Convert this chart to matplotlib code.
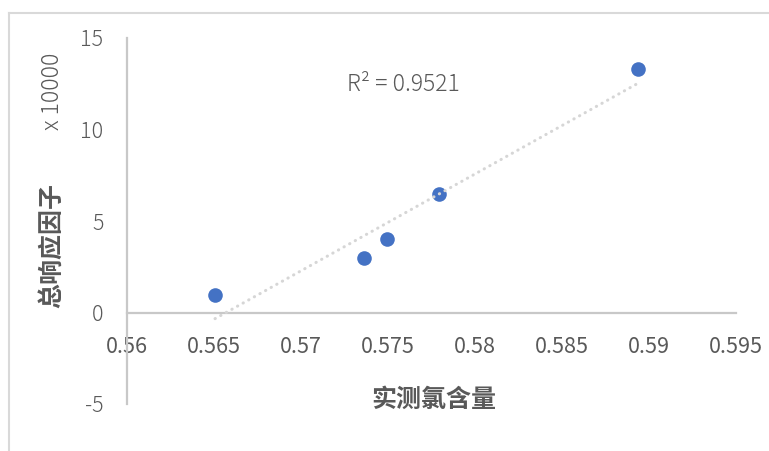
import numpy as np
import matplotlib
matplotlib.use("Agg")
import matplotlib.pyplot as plt
from matplotlib.lines import Line2D

plt.rcParams['font.family'] = ['Noto Sans CJK SC', 'DejaVu Sans']
LIGHT = dict(family=['Noto Sans CJK JP', 'DejaVu Sans'], fontweight=300)

# measured chlorine content vs. total response factor (units of 10000)
chlorine = [0.56506, 0.57362, 0.57494, 0.57793, 0.58937]
response = [0.93, 3.00, 4.04, 6.50, 13.28]
x_ticks = [0.56, 0.565, 0.57, 0.575, 0.58, 0.585, 0.59, 0.595]
x_tick_labels = ["0.56", "0.565", "0.57", "0.575", "0.58", "0.585", "0.59", "0.595"]
y_ticks = [-5, 0, 5, 10, 15]
y_tick_labels = ["-5", "0", "5", "10", "15"]
r2_text = "R² = 0.9521"

W, H = 769, 451
fig = plt.figure(figsize=(W / 100, H / 100), dpi=100)
ax = fig.add_axes([127 / W, 1 - 404 / H, (736 - 127) / W, (404 - 38) / H])

grey_text = "#595959"
axis_col = "#c8c8c8"

# linear trendline over the data range
x = np.array(chlorine)
y = np.array(response)
slope, intercept = np.polyfit(x, y, 1)
xs = np.array([x.min(), x.max()])
ax.plot(xs, slope * xs + intercept, color="#d6d6d6", lw=2.2,
        linestyle=(0, (0.1, 2.0)), dash_capstyle="round", zorder=3)

ax.plot(chlorine, response, "o", color="#4472C4", markersize=10.5,
        markeredgewidth=0, zorder=2)

ax.set_xlim(0.56, 0.595)
ax.set_ylim(-5, 15)
ax.set_xticks(x_ticks)
ax.set_xticklabels(x_tick_labels, **LIGHT)
ax.set_yticks(y_ticks)
ax.set_yticklabels(y_tick_labels, **LIGHT)

for s in ("top", "right"):
    ax.spines[s].set_visible(False)
ax.spines["bottom"].set_position(("data", 0))
for s in ("left", "bottom"):
    ax.spines[s].set_color(axis_col)
    ax.spines[s].set_linewidth(1.6)

ax.tick_params(axis="both", length=0, colors=grey_text, labelsize=15.5)
ax.tick_params(axis="x", pad=17)
ax.tick_params(axis="y", pad=17)

ax.text(0.57266, 12.45, r2_text, fontsize=16.5, color=grey_text,
        ha="left", va="center", **LIGHT)

fig.text(434 / W, 1 - 400 / H, "实测氯含量", fontsize=18, fontweight="bold",
         color=grey_text, ha="center", va="center")
fig.text(52 / W, 1 - 246 / H, "总响应因子", fontsize=18, fontweight="bold",
         color=grey_text, ha="center", va="center", rotation=90)
fig.text(53 / W, 1 - 91 / H, "x 10000", fontsize=16.5,
         color=grey_text, ha="center", va="center", rotation=90, **LIGHT)

# chart-area border
frame_col = "#d9d9d9"
fig.add_artist(Line2D([8.5 / W, 8.5 / W], [0, 1 - 13 / H], transform=fig.transFigure,
                      color=frame_col, lw=1.5))
fig.add_artist(Line2D([8.5 / W, 1], [1 - 13 / H, 1 - 13 / H], transform=fig.transFigure,
                      color=frame_col, lw=1.5))

fig.savefig("out.png", dpi=100, facecolor="white")
